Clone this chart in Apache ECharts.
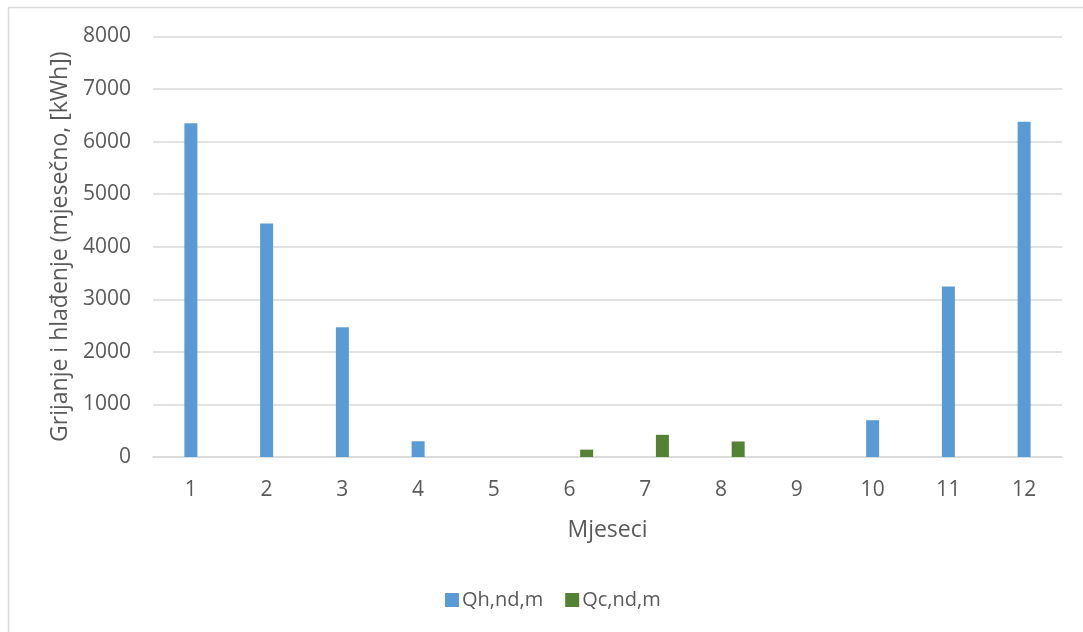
<!DOCTYPE html>
<html>
<head>
<meta charset="utf-8">
<script src="https://cdn.jsdelivr.net/npm/echarts@6/dist/echarts.min.js"></script>
<style>
html,body{margin:0;padding:0;background:#fff;}
#chart{width:1083px;height:632px;}
</style>
</head>
<body>
<div id="chart"></div>
<script>
const months = ['1','2','3','4','5','6','7','8','9','10','11','12'];
const qhValues = [6350, 4440, 2470, 300, 0, 0, 0, 0, 0, 700, 3245, 6380];
const qcValues = [0, 0, 0, 0, 0, 140, 422, 295, 0, 0, 0, 0];
const placeholderValues = ['-','-','-','-','-','-','-','-','-','-','-','-'];
const yTicks = { min: 0, max: 8000, interval: 1000 };
const seriesNames = ['Qh,nd,m', 'Qc,nd,m'];
const xTitle = 'Mjeseci';
const yTitle = 'Grijanje i hlađenje (mjesečno, [kWh])';

const textColor = '#595959';
const font = 'Open Sans';
const chart = echarts.init(document.getElementById('chart'), null, {renderer: 'canvas'});
chart.setOption({
  animation: false,
  backgroundColor: '#fff',
  textStyle: { fontFamily: font, color: textColor },
  graphic: [{
    type: 'rect',
    shape: { x: 8.5, y: 7.5, width: 1200, height: 800 },
    style: { fill: 'none', stroke: '#d9d9d9', lineWidth: 1.5 },
    silent: true, z: -1
  }],
  grid: { left: 153, right: 21, top: 36.5, bottom: 175 },
  legend: {
    data: seriesNames,
    left: 440, top: 585,
    icon: 'rect', itemWidth: 14, itemHeight: 14, itemGap: 22,
    textStyle: { fontFamily: font, fontSize: 20, color: textColor, padding: [0, 0, 0, -2] }
  },
  xAxis: {
    type: 'category',
    data: months,
    name: xTitle, nameLocation: 'middle', nameGap: 62,
    nameTextStyle: { fontFamily: font, fontSize: 23, color: textColor },
    axisLine: { lineStyle: { color: '#d9d9d9', width: 1.5 } },
    axisTick: { show: false },
    axisLabel: { fontFamily: font, fontSize: 21, color: textColor, margin: 23 }
  },
  yAxis: {
    type: 'value',
    min: yTicks.min, max: yTicks.max, interval: yTicks.interval,
    name: yTitle, nameLocation: 'middle', nameGap: 80, nameRotate: 90,
    nameTextStyle: { fontFamily: font, fontSize: 23, color: textColor },
    axisLine: { show: false },
    axisTick: { show: false },
    axisLabel: { fontFamily: font, fontSize: 21, color: textColor, margin: 22,
      formatter: function (v) { return String(v); } },
    splitLine: { lineStyle: { color: '#d9d9d9', width: 1.5 } }
  },
  series: [
    { name: '_hidden', type: 'bar', data: placeholderValues, barWidth: 13, barGap: '31%' },
    { name: seriesNames[0], type: 'bar', data: qhValues, barWidth: 13, barGap: '31%',
      itemStyle: { color: '#5B9BD5' } },
    { name: seriesNames[1], type: 'bar', data: qcValues, barWidth: 13, barGap: '31%',
      itemStyle: { color: '#548235' } }
  ]
});
</script>
</body>
</html>
